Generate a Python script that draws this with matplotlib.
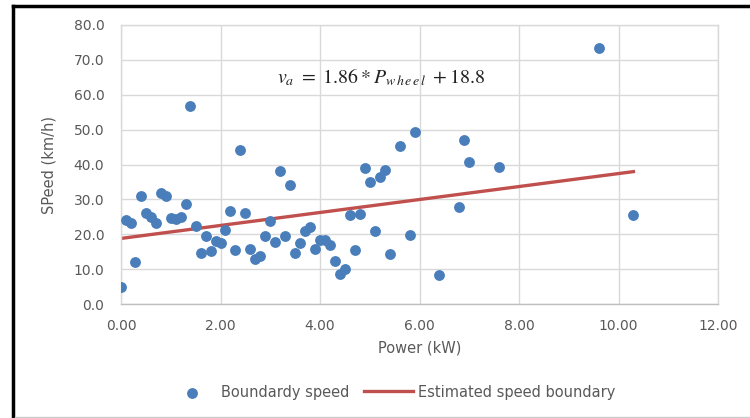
import numpy as np
import matplotlib
matplotlib.use("Agg")
import matplotlib.pyplot as plt
from matplotlib.lines import Line2D

# measured boundary points (power kW, speed km/h)
power = [0.0, 0.1, 0.2, 0.29, 0.4, 0.5, 0.6, 0.7, 0.8, 0.9,
         1.0, 1.1, 1.2, 1.3, 1.38, 1.5, 1.6, 1.7, 1.8, 1.9,
         2.0, 2.1, 2.2, 2.3, 2.4, 2.5, 2.6, 2.7, 2.8, 2.9,
         3.0, 3.1, 3.2, 3.3, 3.4, 3.5, 3.6, 3.7, 3.8, 3.9,
         4.0, 4.1, 4.2, 4.3, 4.4, 4.5, 4.6, 4.7, 4.8, 4.9,
         5.0, 5.1, 5.2, 5.3, 5.4, 5.6, 5.8, 5.9, 6.4, 6.8,
         6.9, 7.0, 7.6, 9.6, 10.3]
speed = [4.9, 24.1, 23.3, 11.9, 31.1, 26.1, 25.0, 23.3, 31.7, 30.9,
         24.6, 24.5, 24.9, 28.8, 56.8, 22.5, 14.7, 19.5, 15.1, 18.2,
         17.4, 21.3, 26.7, 15.4, 44.1, 26.2, 15.8, 12.8, 13.9, 19.5,
         23.7, 17.9, 38.2, 19.5, 34.1, 14.7, 17.6, 20.8, 22.0, 15.9,
         18.4, 18.4, 16.8, 12.3, 8.7, 10.0, 25.4, 15.4, 25.8, 39.0,
         34.9, 20.9, 36.4, 38.4, 14.4, 45.4, 19.9, 49.2, 8.4, 27.8,
         47.1, 40.6, 39.3, 73.4, 25.4]

slope = 1.86
intercept = 18.8

xticks = [0, 2, 4, 6, 8, 10, 12]
yticks = [0, 10, 20, 30, 40, 50, 60, 70, 80]

blue = "#4a7ebb"
red = "#c0504d"
grey = "#d9d9d9"
txt = "#595959"

fig = plt.figure(figsize=(7.5, 4.18), dpi=100)
ax = fig.add_axes([121/750, 1-304/418, (718-121)/750, (304-25)/418])

ax.scatter(power, speed, s=46, color=blue, zorder=3, label="Boundardy speed")
xl = np.array([min(power), max(power)])
ax.plot(xl, slope*xl + intercept, color=red, lw=2.4, zorder=2,
        label="Estimated speed boundary")

ax.set_xlim(0, 12)
ax.set_ylim(0, 80)
ax.set_xticks(xticks)
ax.set_yticks(yticks)
ax.set_xticklabels([f"{t:.2f}" for t in xticks])
ax.set_yticklabels([f"{t:.1f}" for t in yticks])
ax.grid(True, color=grey, lw=1.0)
ax.set_axisbelow(True)
for s in ax.spines.values():
    s.set_color(grey)
    s.set_linewidth(1.0)
ax.spines["bottom"].set_color("#bfbfbf")
ax.tick_params(length=0, labelsize=10, labelcolor=txt)
ax.tick_params(axis="y", pad=12)
ax.tick_params(axis="x", pad=11)

ax.set_xlabel("Power (kW)", fontsize=10.5, color=txt, labelpad=5)
ax.set_ylabel("SPeed (km/h)", fontsize=10.5, color=txt, labelpad=12)

ax.text(3.14, 64.8, r"$v_a\ =\ 1.86*P_{w\,h\,e\,e\,l}\ +18.8$", fontsize=14.3,
        va="center", ha="left", math_fontfamily="stix", color="#222222")

fig.legend(loc="center", bbox_to_anchor=(391/750, 1-392/418), ncol=2,
           frameon=False, fontsize=10.5, labelcolor=txt, handlelength=3.4,
           columnspacing=1.0, handletextpad=0.3)

# chart frame
fig.add_artist(Line2D([13/750, 1], [1-6/418, 1-6/418], color="black", lw=2.5,
                      transform=fig.transFigure))
fig.add_artist(Line2D([13/750, 13/750], [0, 1-6/418], color="black", lw=2.5,
                      transform=fig.transFigure))
fig.add_artist(Line2D([15/750, 1], [1/418, 1/418], color="#cccccc", lw=1,
                      transform=fig.transFigure))

fig.savefig("out.png", dpi=100)
